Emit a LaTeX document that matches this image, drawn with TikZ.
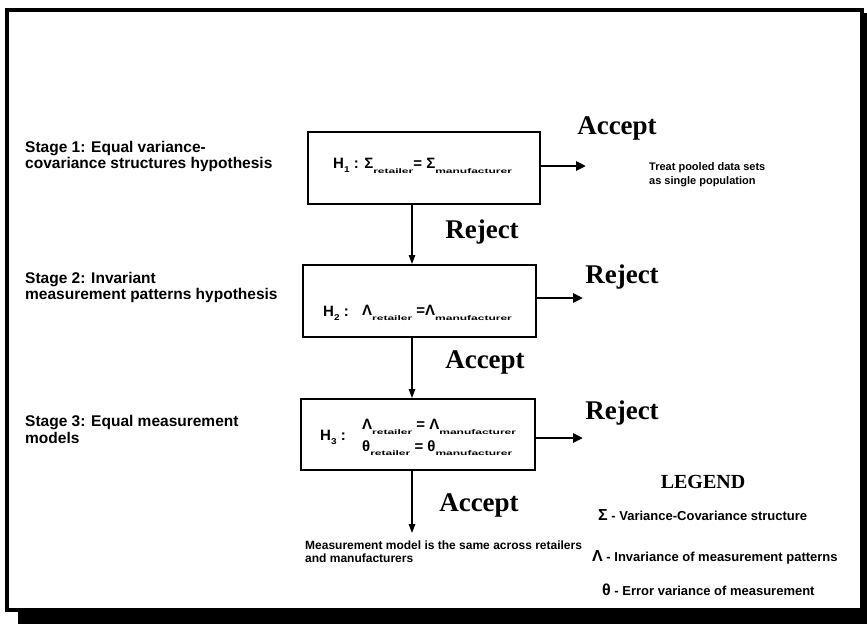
\documentclass[tikz,border=0pt]{standalone}
\usepackage{graphicx}
\usepackage{fontspec}
\setmainfont{Liberation Sans}
\newfontfamily\serifbold{Liberation Serif}
\usetikzlibrary{arrows.meta}
% flattened, lowered index used in the hypotheses
\newcommand\lowsub[1]{\raisebox{-0.55ex}{\scalebox{1}[0.55]{\fontsize{12}{12}\selectfont #1}}}
% index digit of a hypothesis name
\newcommand\hnum[1]{\raisebox{-0.5ex}{\scalebox{1}[0.85]{\fontsize{10}{10}\selectfont #1}}}
\begin{document}
\begin{tikzpicture}[x=1pt,y=-1pt,
  hyp/.style={draw, line width=2pt, inner sep=0pt},
  stagetext/.style={font=\fontsize{15.5}{16.5}\selectfont\bfseries, align=left, anchor=west, inner sep=0pt},
  eqtext/.style={font=\fontsize{15}{20}\selectfont\bfseries, anchor=west, inner sep=0pt},
  decision/.style={font=\serifbold\bfseries\fontsize{27}{27}\selectfont, inner sep=0pt},
  note/.style={font=\fontsize{12}{13.5}\selectfont\bfseries, align=left, anchor=west, inner sep=0pt},
  legendtext/.style={font=\fontsize{13}{13}\selectfont\bfseries, anchor=west, inner sep=0pt},
  flow/.style={line width=1.3pt, -{Triangle[length=9pt,width=6.5pt]}},
  outflow/.style={line width=2.5pt, -{Triangle[length=10pt,width=9pt]}}
]
\useasboundingbox (0,0) rectangle (867,624);

% frame with its drop shadow
\fill[black] (18,612) rectangle (867,624);
\fill[black] (862,13) rectangle (867,624);
\draw[line width=3.5pt] (7,10) rectangle (862,610);

% hypothesis boxes
\node[hyp, minimum width=232pt, minimum height=72pt] (h1) at (424,168) {};
\node[hyp, minimum width=233pt, minimum height=72pt] (h2) at (419.5,301) {};
\node[hyp, minimum width=234pt, minimum height=71pt] (h3) at (418,434.5) {};

% box contents
\node[eqtext] (h1t) at (333,166) {H\hnum{1} : Σ\lowsub{retailer}= Σ\lowsub{manufacturer}};
\node[eqtext] (h2l) at (323,313) {H\hnum{2} :};
\node[eqtext] (h2t) at (362,313) {Λ\lowsub{retailer} =Λ\lowsub{manufacturer}};
\node[eqtext] (h3l) at (320,437) {H\hnum{3} :};
\node[eqtext] (h3a) at (362,427) {Λ\lowsub{retailer} = Λ\lowsub{manufacturer}};
\node[eqtext] (h3b) at (362,448) {θ\lowsub{retailer} = θ\lowsub{manufacturer}};

% stage descriptions
\node[stagetext] (s1) at (25,156.5) {Stage 1: Equal variance-\\covariance structures hypothesis};
\node[stagetext] (s2) at (25,287.5) {Stage 2: Invariant\\measurement patterns hypothesis};
\node[stagetext] (s3) at (25,429.5) {Stage 3: Equal measurement\\models};

% decisions
\node[decision] (acc1) at (617,128) {Accept};
\node[decision] (rej1) at (482,232) {Reject};
\node[decision] (rej2) at (622,277) {Reject};
\node[decision] (acc2) at (485,362) {Accept};
\node[decision] (rej3) at (622,413) {Reject};
\node[decision] (acc3) at (479,505) {Accept};

% outcomes
\node[note, font=\fontsize{11}{14}\selectfont\bfseries] (pool) at (649,175) {Treat pooled data sets\\as single population};
\node[note] (same) at (305,551.5) {Measurement model is the same across retailers\\and manufacturers};

% legend
\node[font=\serifbold\bfseries\fontsize{20}{20}\selectfont, inner sep=0pt] (leg) at (703,482) {LEGEND};
\node[legendtext] (lg1) at (598,515) {{\fontsize{16}{16}\selectfont Σ} - Variance-Covariance structure};
\node[legendtext] (lg2) at (592,557) {{\fontsize{16}{16}\selectfont Λ} - Invariance of measurement patterns};
\node[legendtext] (lg3) at (602,590) {{\fontsize{16}{16}\selectfont θ} - Error variance of measurement};

% connectors
\coordinate (spine) at (412,0);
\coordinate (e1) at (586,166);
\coordinate (e2) at (583,298);
\coordinate (e3) at (583,438);
\coordinate (e4) at (412,533);
\draw[flow] (h1.south -| spine) -- (h2.north -| spine);
\draw[flow] (h2.south -| spine) -- (h3.north -| spine);
\draw[flow] (h3.south -| spine) -- (e4);
\draw[outflow] (h1.east |- e1) -- (e1);
\draw[outflow] (h2.east |- e2) -- (e2);
\draw[outflow] (h3.east |- e3) -- (e3);
\end{tikzpicture}
\end{document}
